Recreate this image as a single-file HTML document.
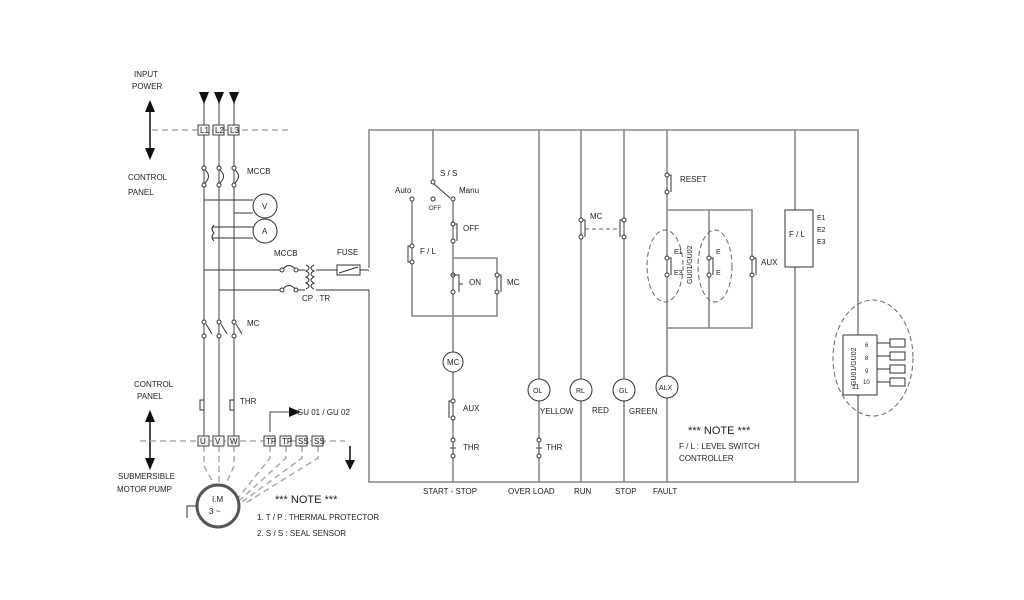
<!DOCTYPE html>
<html><head><meta charset="utf-8"><style>
html,body{margin:0;padding:0;background:#fff;width:1024px;height:600px;overflow:hidden}
svg{display:block}
text{font-family:"Liberation Sans",sans-serif;font-size:8px;fill:#222}
</style></head><body>
<svg width="1024" height="600" viewBox="0 0 1024 600">
<g stroke="#888" stroke-width="1.6" fill="none">
<polyline points="369,268 369,130 858,130 858,482 369,482 369,290"/>
<line x1="795" y1="130" x2="795" y2="482"/>
<line x1="204" y1="100" x2="204" y2="441"/>
<line x1="219" y1="100" x2="219" y2="441"/>
<line x1="234" y1="100" x2="234" y2="441"/>
<line x1="433" y1="130" x2="433" y2="180"/>
<polyline points="412,200 412,316 497,316 497,258 453,258"/>
<line x1="453" y1="200" x2="453" y2="482"/>
<line x1="539" y1="130" x2="539" y2="482"/>
<line x1="581" y1="130" x2="581" y2="482"/>
<line x1="624" y1="130" x2="624" y2="482"/>
<line x1="667" y1="130" x2="667" y2="482"/>
<polyline points="667,210 752,210 752,328 667,328"/>
<line x1="709" y1="210" x2="709" y2="328"/>
</g>
<g stroke="#333" stroke-width="1" fill="none">
<line x1="204" y1="200" x2="253" y2="200"/>
<line x1="234" y1="213" x2="253" y2="213"/>
<path d="M212,227 h41 M212,238 h41 M214,225 q-4,4 0,8 q-4,4 0,8"/>
<line x1="204" y1="270" x2="280" y2="270"/>
<line x1="219" y1="290" x2="280" y2="290"/>
<line x1="296" y1="270" x2="305" y2="270"/>
<line x1="296" y1="290" x2="305" y2="290"/>
<path d="M306,265 q6,3 0,6 q6,3 0,6 q6,3 0,6 q6,3 0,6 M314,265 q-6,3 0,6 q-6,3 0,6 q-6,3 0,6 q-6,3 0,6"/>
<line x1="316" y1="270" x2="337" y2="270"/>
<line x1="316" y1="290" x2="369" y2="290"/>
<line x1="360" y1="270" x2="369" y2="270"/>
<rect x="337" y="265" width="23" height="10"/>
<line x1="339" y1="273" x2="358" y2="267"/>
<circle cx="265" cy="206" r="12" fill="#fff"/>
<circle cx="265" cy="231" r="12" fill="#fff"/>
<path d="M282,270 q7,-9 14,0 M282,290 q7,-9 14,0"/>
<circle cx="282" cy="270" r="2" fill="#fff"/><circle cx="296" cy="270" r="2" fill="#fff"/>
<circle cx="282" cy="290" r="2" fill="#fff"/><circle cx="296" cy="290" r="2" fill="#fff"/>
<g fill="#fff">
<circle cx="204" cy="168" r="2"/><circle cx="219" cy="168" r="2"/><circle cx="234" cy="168" r="2"/>
<circle cx="204" cy="185" r="2"/><circle cx="219" cy="185" r="2"/><circle cx="234" cy="185" r="2"/>
<circle cx="204" cy="322" r="2"/><circle cx="219" cy="322" r="2"/><circle cx="234" cy="322" r="2"/>
<circle cx="204" cy="336" r="2"/><circle cx="219" cy="336" r="2"/><circle cx="234" cy="336" r="2"/>
</g>
<path d="M205,170 q7,6 0,13 M220,170 q7,6 0,13 M235,170 q7,6 0,13"/>
<path d="M206,324 l6,10 M221,324 l6,10 M236,324 l6,10"/>
<path d="M204,400 h-4 v10 h4 M234,400 h-4 v10 h4"/>
</g>
<g fill="#111">
<polygon points="199,92 209,92 204,104"/><polygon points="214,92 224,92 219,104"/><polygon points="229,92 239,92 234,104"/>
<polygon points="150,100 145,112 155,112"/><polygon points="150,160 145,148 155,148"/>
<polygon points="150,410 145,422 155,422"/><polygon points="150,470 145,458 155,458"/>
<polygon points="289,407 289,417 301,412"/><polygon points="345,460 355,460 350,470"/>
</g>
<g stroke="#111" stroke-width="1.5">
<line x1="150" y1="105" x2="150" y2="155"/><line x1="150" y1="415" x2="150" y2="465"/>
<line x1="350" y1="446" x2="350" y2="462"/>
</g>
<polyline points="270,432 270,412 290,412" stroke="#444" fill="none"/>
<g stroke="#aaa" stroke-width="1.5" stroke-dasharray="6,4" fill="none">
<line x1="152" y1="130" x2="292" y2="130"/>
<line x1="140" y1="441" x2="345" y2="441"/>
<path d="M204,446 v20 l10,18 M219,446 v38 M234,446 v20 l-8,18"/>
<path d="M270,446 v12 l-32,40 M286,446 v12 l-46,42 M302,446 v12 l-60,44 M318,446 v12 l-74,46"/>
</g>
<g stroke="#444" fill="#f4f4f4" stroke-width="1">
<rect x="198" y="125" width="11" height="10"/><rect x="213" y="125" width="11" height="10"/><rect x="228" y="125" width="11" height="10"/>
<rect x="198" y="436" width="11" height="10"/><rect x="213" y="436" width="11" height="10"/><rect x="228" y="436" width="11" height="10"/>
<rect x="264" y="436" width="11" height="10"/><rect x="280" y="436" width="11" height="10"/><rect x="296" y="436" width="11" height="10"/><rect x="312" y="436" width="11" height="10"/>
</g>
<g style="font-size:5px">
<text x="200" y="133">L1</text><text x="215" y="133">L2</text><text x="230" y="133">L3</text>
<text x="200" y="444">U</text><text x="215" y="444">V</text><text x="230" y="444">W</text>
<text x="266" y="444">TP</text><text x="282" y="444">TP</text><text x="298" y="444">SS</text><text x="314" y="444">SS</text>
</g>
<circle cx="218" cy="506" r="21" fill="#fff" stroke="#555" stroke-width="3"/>
<path d="M197,506 h-10 v12" stroke="#333" fill="none"/>
<g stroke="#333" fill="#fff" stroke-width="1">
<circle cx="433" cy="182" r="2"/><line x1="434" y1="184" x2="450" y2="198"/>
<circle cx="412" cy="199" r="2"/><circle cx="433" cy="199" r="2"/><circle cx="453" cy="199" r="2"/>
<circle cx="453" cy="224" r="2"/><circle cx="453" cy="241" r="2"/><path d="M455,224 h2 v17" fill="none"/>
<circle cx="412" cy="246" r="2"/><circle cx="412" cy="262" r="2"/><path d="M410,246 h-2 v16 h2" fill="none"/>
<circle cx="453" cy="275" r="2"/><circle cx="453" cy="292" r="2"/><path d="M451,275 h8 v17 M459,284 h4" fill="none"/>
<circle cx="497" cy="275" r="2"/><circle cx="497" cy="292" r="2"/><path d="M499,275 h2 v17" fill="none"/>
<circle cx="453" cy="362" r="10"/>
<circle cx="453" cy="401" r="2"/><circle cx="453" cy="418" r="2"/><path d="M451,401 h-2 v17" fill="none"/>
<circle cx="453" cy="440" r="2"/><circle cx="453" cy="456" r="2"/><line x1="450" y1="448" x2="456" y2="448"/>
<circle cx="539" cy="440" r="2"/><circle cx="539" cy="456" r="2"/><line x1="536" y1="448" x2="542" y2="448"/>
<circle cx="581" cy="220" r="2"/><circle cx="581" cy="237" r="2"/><path d="M583,220 h2 v17" fill="none"/>
<circle cx="624" cy="220" r="2"/><circle cx="624" cy="237" r="2"/><path d="M622,220 h-2 v17" fill="none"/>
<circle cx="667" cy="175" r="2"/><circle cx="667" cy="192" r="2"/><path d="M669,175 h2 v17" fill="none"/>
<circle cx="667" cy="258" r="2"/><circle cx="667" cy="275" r="2"/><path d="M669,258 h2 v17" fill="none"/>
<circle cx="709" cy="258" r="2"/><circle cx="709" cy="275" r="2"/><path d="M711,258 h2 v17" fill="none"/>
<circle cx="752" cy="258" r="2"/><circle cx="752" cy="275" r="2"/><path d="M754,258 h2 v17" fill="none"/>
<circle cx="539" cy="390" r="11"/><circle cx="581" cy="390" r="11"/><circle cx="624" cy="390" r="11"/><circle cx="667" cy="387" r="11"/>
<rect x="785" y="210" width="28" height="57"/>
<rect x="843" y="335" width="34" height="60"/>
<rect x="890" y="339" width="15" height="8"/><rect x="890" y="352" width="15" height="8"/><rect x="890" y="365" width="15" height="8"/><rect x="890" y="378" width="15" height="8"/>
<path d="M877,343 h13 M877,356 h13 M877,369 h13 M877,382 h13" fill="none"/>
</g>
<line x1="585" y1="229" x2="620" y2="229" stroke="#666" stroke-dasharray="4,3"/>
<g fill="none" stroke="#666" stroke-dasharray="5,3">
<ellipse cx="665" cy="266" rx="18" ry="36"/><ellipse cx="715" cy="266" rx="17" ry="36"/>
<ellipse cx="873" cy="358" rx="40" ry="58"/>
</g>
<text x="134" y="77">INPUT</text><text x="132" y="89">POWER</text>
<text x="128" y="180">CONTROL</text><text x="128" y="195">PANEL</text>
<text x="247" y="174">MCCB</text>
<text x="262" y="209">V</text><text x="262" y="234">A</text>
<text x="274" y="256">MCCB</text><text x="337" y="255">FUSE</text>
<text x="302" y="301">CP . TR</text>
<text x="247" y="326">MC</text><text x="240" y="404">THR</text>
<text x="134" y="387">CONTROL</text><text x="137" y="399">PANEL</text>
<text x="297" y="415">GU 01 / GU 02</text>
<text x="118" y="479">SUBMERSIBLE</text><text x="117" y="492">MOTOR PUMP</text>
<text x="212" y="502">I.M</text><text x="209" y="514">3 ~</text>
<text x="275" y="503" style="font-size:11px">*** NOTE ***</text>
<text x="257" y="520">1. T / P : THERMAL PROTECTOR</text>
<text x="257" y="536">2. S / S : SEAL SENSOR</text>
<text x="440" y="176">S / S</text><text x="395" y="193">Auto</text><text x="459" y="193">Manu</text>
<text x="429" y="210" style="font-size:6px">OFF</text>
<text x="463" y="231">OFF</text><text x="420" y="254">F / L</text>
<text x="469" y="285">ON</text><text x="507" y="285">MC</text>
<text x="447" y="365">MC</text><text x="463" y="411">AUX</text><text x="463" y="450">THR</text>
<text x="546" y="450">THR</text>
<text x="590" y="219">MC</text><text x="680" y="182">RESET</text><text x="761" y="265">AUX</text>
<text x="674" y="254" style="font-size:7px">E1</text><text x="674" y="275" style="font-size:7px">E3</text>
<text x="716" y="254" style="font-size:7px">E</text><text x="716" y="275" style="font-size:7px">E</text>
<text transform="translate(692,284) rotate(-90)" style="font-size:7px">GU01/GU02</text>
<text transform="translate(856,386) rotate(-90)" style="font-size:7px">GU01/GU02</text>
<text x="533" y="393" style="font-size:7px">OL</text><text x="576" y="393" style="font-size:7px">RL</text><text x="619" y="393" style="font-size:7px">GL</text><text x="659" y="390" style="font-size:7px">ALX</text>
<text x="540" y="414">YELLOW</text><text x="592" y="413">RED</text><text x="629" y="414">GREEN</text>
<text x="688" y="434" style="font-size:11px">*** NOTE ***</text>
<text x="679" y="449">F / L : LEVEL SWITCH</text><text x="679" y="461">CONTROLLER</text>
<text x="423" y="494">START - STOP</text><text x="508" y="494">OVER LOAD</text><text x="574" y="494">RUN</text>
<text x="615" y="494">STOP</text><text x="653" y="494">FAULT</text>
<text x="789" y="237">F / L</text>
<text x="817" y="220" style="font-size:7px">E1</text><text x="817" y="232" style="font-size:7px">E2</text><text x="817" y="244" style="font-size:7px">E3</text>
<text x="865" y="347" style="font-size:6px">6</text><text x="865" y="360" style="font-size:6px">8</text><text x="865" y="373" style="font-size:6px">9</text><text x="863" y="384" style="font-size:6px">10</text>
<text x="852" y="389" style="font-size:7px">11</text>
</svg>
</body></html>
